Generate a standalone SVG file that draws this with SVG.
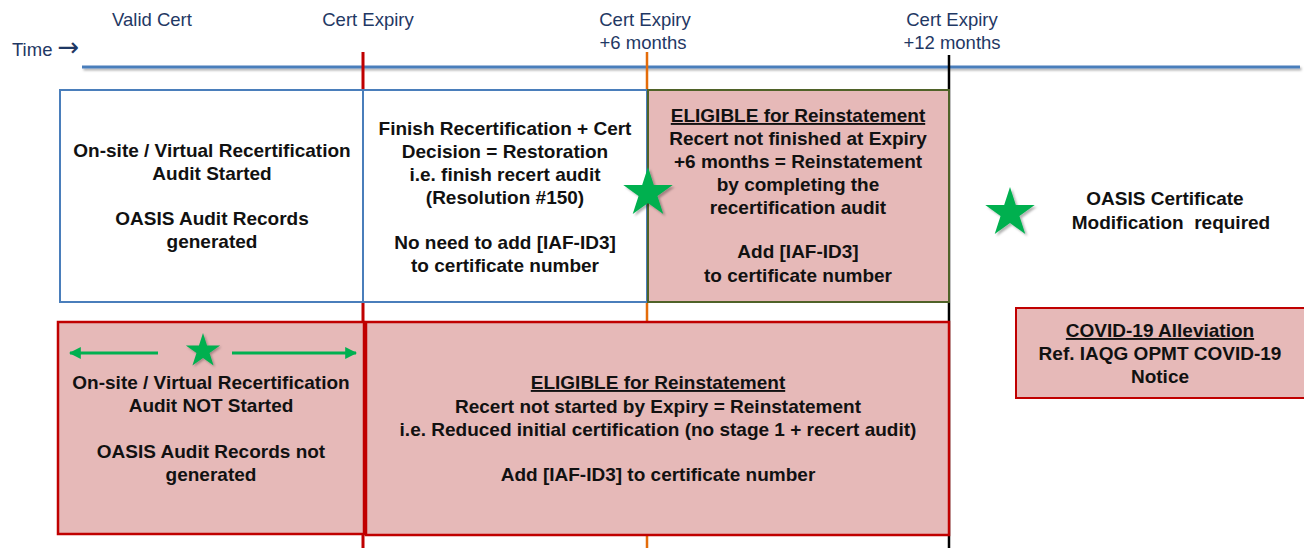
<svg xmlns="http://www.w3.org/2000/svg" width="1304" height="548" viewBox="0 0 1304 548">
<style>
.hdr{font-family:"Liberation Sans",Arial,sans-serif;font-size:18.5px;fill:#1f3864;text-anchor:middle}
.t{font-family:"Liberation Sans",Arial,sans-serif;font-size:19px;font-weight:bold;fill:#111;text-anchor:middle}
.u{text-decoration:underline}
.pink{fill:#e6b9b8}
.star{fill:#00b050}
</style>
<defs>
<filter id="sh" x="-50%" y="-50%" width="200%" height="200%">
<feDropShadow dx="0.08" dy="0.08" stdDeviation="0.05" flood-color="#000" flood-opacity="0.3"/>
</filter>
<filter id="lsh" x="-5%" y="-200%" width="110%" height="500%">
<feDropShadow dx="1.5" dy="2" stdDeviation="1" flood-color="#000" flood-opacity="0.3"/>
</filter>
<marker id="ah" viewBox="0 0 10 10" refX="9" refY="5" markerWidth="4" markerHeight="4" orient="auto-start-reverse">
<path d="M0,0 L10,5 L0,10 z" fill="#00b050"/>
</marker>
<polygon id="starshape" points="0,-1 0.2245,-0.309 0.951,-0.309 0.3633,0.118 0.5878,0.809 0,0.382 -0.5878,0.809 -0.3633,0.118 -0.951,-0.309 -0.2245,-0.309"/>
</defs>

<g id="connectors">
<rect x="82" y="65.5" width="1218" height="3" fill="#4a7ebb" filter="url(#lsh)"/>
<line x1="363" y1="52" x2="363" y2="548" stroke="#c00000" stroke-width="3"/>
<line x1="647" y1="52" x2="647" y2="548" stroke="#e46c0a" stroke-width="2.5"/>
<line x1="949" y1="55" x2="949" y2="548" stroke="#000" stroke-width="2.5"/>
</g>

<g id="headers">
<text class="hdr" x="152" y="26">Valid Cert</text>
<text class="hdr" x="368" y="26">Cert Expiry</text>
<text class="hdr" x="645" y="26">Cert Expiry</text>
<text class="hdr" x="643" y="49">+6 months</text>
<text class="hdr" x="952" y="26">Cert Expiry</text>
<text class="hdr" x="952" y="49">+12 months</text>
<text class="hdr" x="12" y="56" style="text-anchor:start">Time <tspan style="font-family:'DejaVu Sans',sans-serif;font-size:26px">→</tspan></text>
</g>

<g id="box-valid-started">
<rect x="60" y="90" width="303" height="212" fill="#fff" stroke="#4a7ebb" stroke-width="2"/>
<text class="t" x="212" y="157">On-site / Virtual Recertification</text>
<text class="t" x="212" y="180">Audit Started</text>
<text class="t" x="212" y="225">OASIS Audit Records</text>
<text class="t" x="212" y="248">generated</text>
</g>

<g id="box-restoration">
<rect x="363" y="90" width="284" height="212" fill="#fff" stroke="#4a7ebb" stroke-width="2"/>
<text class="t" x="505" y="135">Finish Recertification + Cert</text>
<text class="t" x="505" y="158">Decision = Restoration</text>
<text class="t" x="505" y="181">i.e. finish recert audit</text>
<text class="t" x="505" y="204">(Resolution #150)</text>
<text class="t" x="505" y="249">No need to add [IAF-ID3]</text>
<text class="t" x="505" y="272">to certificate number</text>
</g>

<g id="box-reinstate-finish">
<rect x="648" y="90" width="301" height="212" class="pink" stroke="#4f6228" stroke-width="2"/>
<text class="t u" x="798" y="122">ELIGIBLE for Reinstatement</text>
<text class="t" x="798" y="145">Recert not finished at Expiry</text>
<text class="t" x="798" y="168">+6 months = Reinstatement</text>
<text class="t" x="798" y="191">by completing the</text>
<text class="t" x="798" y="214">recertification audit</text>
<text class="t" x="798" y="258">Add [IAF-ID3]</text>
<text class="t" x="798" y="282">to certificate number</text>
</g>

<g id="box-not-started">
<rect x="58" y="322" width="306" height="212" class="pink" stroke="#c00000" stroke-width="2.5"/>
<text class="t" x="211" y="389">On-site / Virtual Recertification</text>
<text class="t" x="211" y="412">Audit NOT Started</text>
<text class="t" x="211" y="458">OASIS Audit Records not</text>
<text class="t" x="211" y="481">generated</text>
</g>

<g id="box-reinstate-start">
<rect x="366" y="322" width="583" height="213" class="pink" stroke="#c00000" stroke-width="2.5"/>
<text class="t u" x="658" y="389">ELIGIBLE for Reinstatement</text>
<text class="t" x="658" y="413">Recert not started by Expiry = Reinstatement</text>
<text class="t" x="658" y="436">i.e. Reduced initial certification (no stage 1 + recert audit)</text>
<text class="t" x="658" y="481">Add [IAF-ID3] to certificate number</text>
</g>

<g id="box-covid">
<rect x="1016" y="308" width="292" height="90" class="pink" stroke="#c00000" stroke-width="2"/>
<text class="t u" x="1160" y="337">COVID-19 Alleviation</text>
<text class="t" x="1160" y="360">Ref. IAQG OPMT COVID-19</text>
<text class="t" x="1160" y="383">Notice</text>
</g>

<g id="legend">
<use href="#starshape" class="star" transform="translate(1010,213) scale(26)" filter="url(#sh)"/>
<text class="t" x="1165" y="205">OASIS Certificate</text>
<text class="t" x="1171" y="229" style="white-space:pre">Modification  required</text>
</g>

<g id="arrows">
<line x1="158" y1="353" x2="70" y2="353" stroke="#00b050" stroke-width="3" marker-end="url(#ah)"/>
<line x1="232" y1="353" x2="356" y2="353" stroke="#00b050" stroke-width="3" marker-end="url(#ah)"/>
</g>

<g id="stars">
<use href="#starshape" class="star" transform="translate(648,193) scale(26)" filter="url(#sh)"/>
<use href="#starshape" class="star" transform="translate(203,351) scale(18)" filter="url(#sh)"/>
</g>
</svg>
